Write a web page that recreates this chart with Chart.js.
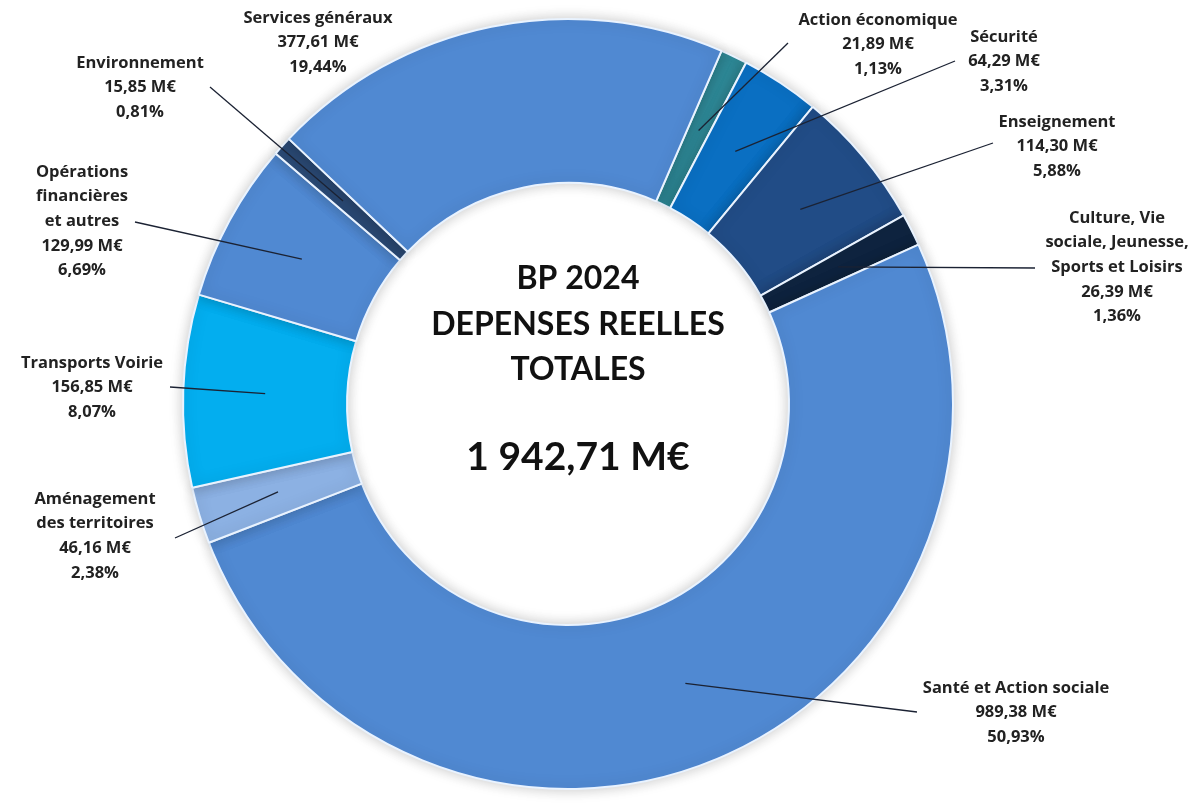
<!DOCTYPE html>
<html>
<head>
<meta charset="utf-8">
<script src="https://cdn.jsdelivr.net/npm/chart.js@4.4.1/dist/chart.umd.min.js"></script>
<style>
  html, body { margin: 0; background: #fff; }
</style>
</head>
<body>
<canvas id="depenses" width="1203" height="810"></canvas>
<script>
// clockwise from the top, starting after "Services généraux"
const categories = [
  ["Action économique"],
  ["Sécurité"],
  ["Enseignement"],
  ["Culture, Vie", "sociale, Jeunesse,", "Sports et Loisirs"],
  ["Santé et Action sociale"],
  ["Aménagement", "des territoires"],
  ["Transports Voirie"],
  ["Opérations", "financières", "et autres"],
  ["Environnement"],
  ["Services généraux"]
];
const amounts = [21.89, 64.29, 114.30, 26.39, 989.38, 46.16, 156.85, 129.99, 15.85, 377.61];
// shares as printed on the chart
const shares = ["1,13", "3,31", "5,88", "1,36", "50,93", "2,38", "8,07", "6,69", "0,81", "19,44"];
const titleLines = ["BP 2024", "DEPENSES REELLES", "TOTALES"];

const sliceColors = ["#2f8a98", "#0a6fc2", "#214c86", "#0f2440", "#5089d2",
                     "#8cb1e3", "#03aeef", "#5089d2", "#2b4a75", "#5089d2"];

// where each label sits: text centre x, first line y, end of leader line (null = none)
const labelSpots = [
  { tx: 878, ty: 20, end: [788, 43] },
  { tx: 1004, ty: 37, end: [955, 61] },
  { tx: 1057, ty: 122, end: [993, 143] },
  { tx: 1117, ty: 218, end: [1035, 268] },
  { tx: 1016, ty: 688, end: [917, 712] },
  { tx: 95, ty: 499, end: [175, 538] },
  { tx: 92, ty: 363, end: [170, 387] },
  { tx: 82, ty: 172, end: [135, 222] },
  { tx: 140, ty: 63, end: [210, 87] },
  { tx: 318, ty: 18, end: null }
];

const total = amounts.reduce((a, b) => a + b, 0);
const fmt = (v) => {
  const [i, d] = v.toFixed(2).split(".");
  return i.replace(/\B(?=(\d{3})+(?!\d))/g, " ") + "," + d;
};

const ringShadow = {
  id: "ringShadow",
  beforeDatasetsDraw(chart) {
    const c = chart.ctx;
    c.save();
    c.shadowColor = "rgba(0,0,0,0.22)";
    c.shadowBlur = 14;
  },
  afterDatasetsDraw(chart) {
    chart.ctx.restore();
  }
};

const calloutLabels = {
  id: "calloutLabels",
  afterDraw(chart) {
    const c = chart.ctx;
    const arcs = chart.getDatasetMeta(0).data;
    c.save();
    c.strokeStyle = "#1b2233";
    c.lineWidth = 1.3;
    arcs.forEach((arc, i) => {
      const spot = labelSpots[i];
      if (!spot.end) return;
      const p = arc.tooltipPosition();
      c.beginPath();
      c.moveTo(p.x, p.y);
      c.lineTo(spot.end[0], spot.end[1]);
      c.stroke();
    });

    c.fillStyle = "#222";
    c.textAlign = "center";
    c.textBaseline = "middle";
    c.font = "bold 16.5px 'Open Sans'";
    categories.forEach((name, i) => {
      const spot = labelSpots[i];
      const lines = [...name, fmt(amounts[i]) + " M€", shares[i] + "%"];
      lines.forEach((t, k) => c.fillText(t, spot.tx, spot.ty + k * 24.6));
    });

    // centre title
    const cx = arcs[0].x + 10;
    const cy = arcs[0].y;
    c.fillStyle = "#111";
    c.font = "bold 32px Lato";
    titleLines.forEach((t, k) => c.fillText(t, cx, cy - 125 + k * 45.5));
    c.font = "bold 39px Lato";
    c.fillText(fmt(total) + " M€", cx, cy + 53);
    c.restore();
  }
};

new Chart(document.getElementById("depenses"), {
  type: "doughnut",
  data: {
    labels: categories,
    datasets: [{
      data: amounts,
      backgroundColor: sliceColors,
      borderColor: "#e9f3ff",
      borderWidth: 2
    }]
  },
  options: {
    responsive: false,
    animation: false,
    rotation: 23.5,
    cutout: "57.4%",
    layout: { padding: { top: 18, bottom: 20, left: 0, right: 67 } },
    plugins: {
      legend: { display: false },
      tooltip: { enabled: false }
    }
  },
  plugins: [ringShadow, calloutLabels]
});
</script>
</body>
</html>
